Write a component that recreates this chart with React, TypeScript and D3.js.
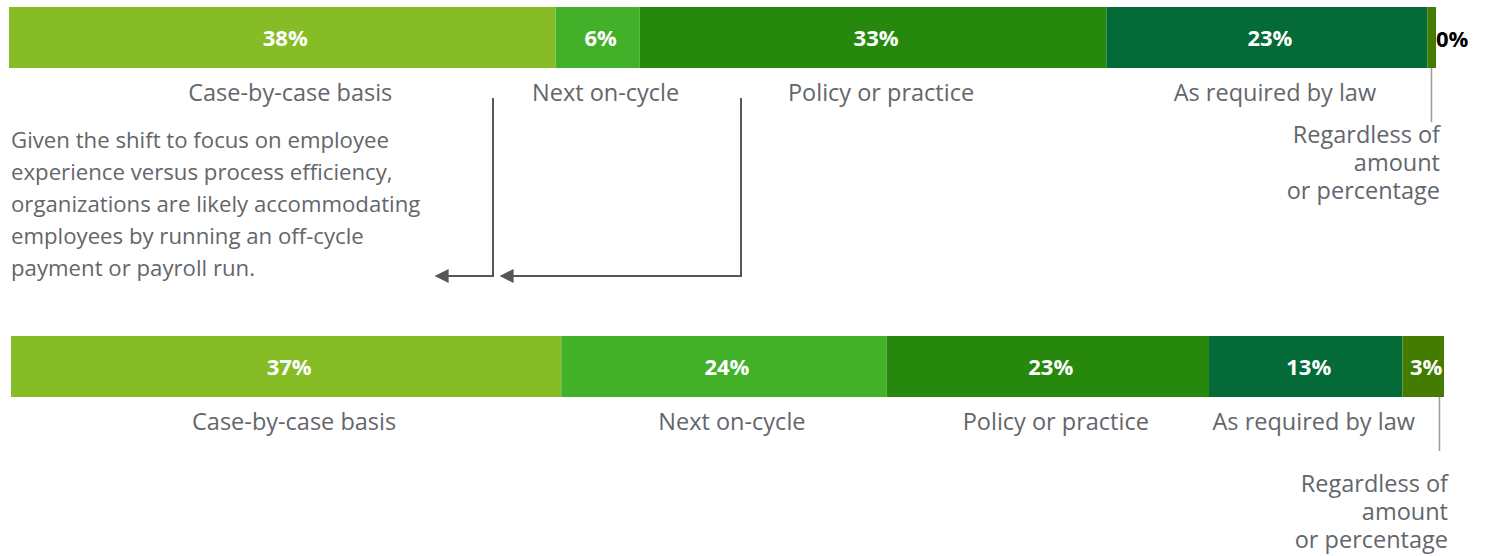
import React from 'react';
import * as d3 from 'd3';

// categories shared by both bars
const categories = ['Case-by-case basis', 'Next on-cycle', 'Policy or practice', 'As required by law', 'Regardless of amount or percentage'];
const colors = ['#86bc25', '#43b02a', '#26890d', '#046a38', '#437c00'];

// shares, labels as printed
const topShares = [38.3, 5.9, 32.7, 22.5, 0.6];
const topLabels = ['38%', '6%', '33%', '23%', '0%'];
const bottomShares = [38.4, 22.7, 22.5, 13.5, 2.9];
const bottomLabels = ['37%', '24%', '23%', '13%', '3%'];

const noteLines = [
  'Given the shift to focus on employee',
  'experience versus process efficiency,',
  'organizations are likely accommodating',
  'employees by running an off-cycle',
  'payment or payroll run.',
];
const lastLabelLines = ['Regardless of', 'amount', 'or percentage'];

const FONT = '"Open Sans", "Noto Sans", sans-serif';
const GREY = '#63666a';

interface BarProps {
  shares: number[];
  labels: string[];
  x0: number;
  x1: number;
  y: number;
  h: number;
  lastInside: boolean;
  lastLabelY: number;
}

const StackedBar: React.FC<BarProps> = ({ shares, labels, x0, x1, y, h, lastInside, lastLabelY }) => {
  const total = d3.sum(shares);
  const x = d3.scaleLinear().domain([0, total]).range([x0, x1]);
  const starts = d3.cumsum([0, ...shares]);
  const n = shares.length;
  return (
    <g>
      {shares.map((s, i) => {
        const a = x(starts[i]);
        const b = x(starts[i] + s);
        const cx = (a + b) / 2;
        const isLast = i === n - 1;
        return (
          <g key={i}>
            <rect x={a} y={y} width={b - a} height={h} fill={colors[i]} />
            {isLast && !lastInside ? (
              <text x={b} y={y + h / 2 + 9} fontSize={22} fontWeight={700} fill="#000" fontFamily={FONT}>{labels[i]}</text>
            ) : (
              <text x={cx + 3} y={y + h / 2 + 8} textAnchor="middle" fontSize={22} fontWeight={700} fill="#fff" fontFamily={FONT}>{labels[i]}</text>
            )}
            {!isLast && (
              <text x={cx + 8} y={y + h + 33} textAnchor="middle" fontSize={23.5} fill={GREY} fontFamily={FONT}>{categories[i]}</text>
            )}
            {isLast && (
              <g>
                <line x1={b - 4.5} x2={b - 4.5} y1={y + h} y2={y + h + 54} stroke="#9a9a9a" strokeWidth={1.5} />
                <text y={lastLabelY} textAnchor="end" fontSize={23.5} fill={GREY} fontFamily={FONT}>
                  {lastLabelLines.map((t, j) => (
                    <tspan key={j} x={b + 4} dy={j === 0 ? 0 : 28}>{t}</tspan>
                  ))}
                </text>
              </g>
            )}
          </g>
        );
      })}
    </g>
  );
};

export default function App() {
  const arrowColor = '#53565a';
  return (
    <svg width={1485} height={556} style={{ position: 'absolute', top: 0, left: 0, background: '#fff' }}>
      <defs>
        <marker id="head" viewBox="0 0 10 10" refX={9} refY={5} markerWidth={8} markerHeight={7} orient="auto-start-reverse">
          <path d="M0,0 L10,5 L0,10 z" fill={arrowColor} />
        </marker>
      </defs>
      <StackedBar shares={topShares} labels={topLabels} x0={9} x1={1436} y={7} h={61} lastInside={false} lastLabelY={143} />
      <StackedBar shares={bottomShares} labels={bottomLabels} x0={11} x1={1444} y={336} h={61} lastInside={true} lastLabelY={492} />

      <text fontSize={22.2} fill={GREY} fontFamily={FONT} y={148}>
        {noteLines.map((t, i) => (
          <tspan key={i} x={11} dy={i === 0 ? 0 : 32}>{t}</tspan>
        ))}
      </text>

      <polyline points="493,98 493,276 436,276" fill="none" stroke={arrowColor} strokeWidth={2} markerEnd="url(#head)" />
      <polyline points="741,98 741,276 501,276" fill="none" stroke={arrowColor} strokeWidth={2} markerEnd="url(#head)" />
    </svg>
  );
}
